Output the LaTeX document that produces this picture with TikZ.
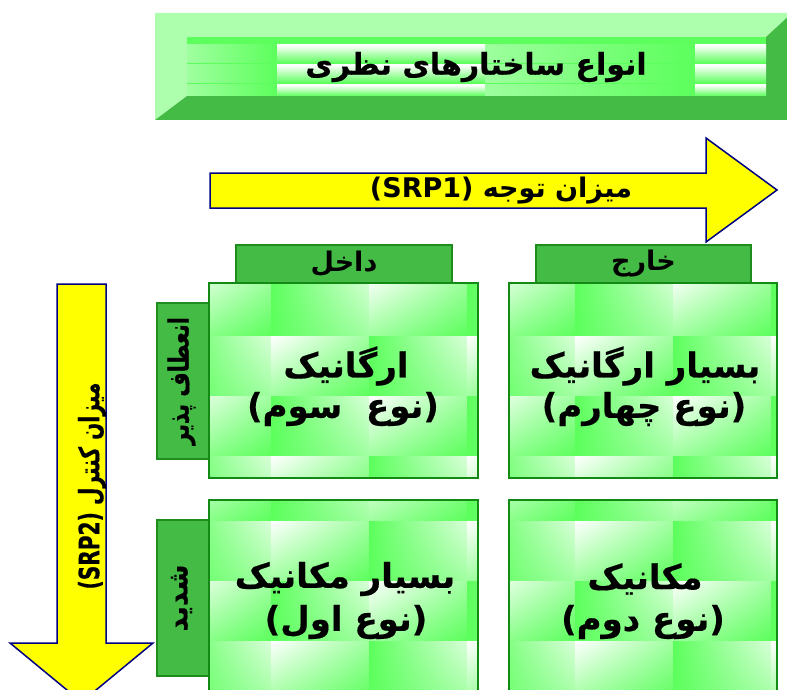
\documentclass[tikz,border=0pt]{standalone}
\usepackage{fontspec}
\usepackage{graphicx}
\usetikzlibrary{shadings}
\TeXXeTstate=1
\newfontfamily\ar[Script=Arabic]{DejaVu Sans}
\newfontfamily\arh[Script=Arabic, BoldFeatures={FakeBold=0.5}]{DejaVu Sans}
\definecolor{tg}{HTML}{5CFF5C}
\definecolor{tl}{HTML}{A0FFA0}
\definecolor{bevL}{HTML}{ADFFAD}
\definecolor{bevD}{HTML}{44BB44}
\definecolor{hdrfill}{HTML}{44BB44}
\definecolor{hdrline}{HTML}{1E8C1E}
\definecolor{cellline}{HTML}{138A13}
\definecolor{arrfill}{HTML}{FFFF00}
\definecolor{arrline}{HTML}{000080}
\newcommand\tiletex[6]{%
\begin{scope}
\clip (#1,-#2) rectangle (#3,-#4);
\foreach \i in {0,...,4}{
 \foreach \j in {0,...,4}{
  \pgfmathsetmacro\xa{#5+98*\i}
  \pgfmathsetmacro\ya{#6+60*\j}
  \pgfmathtruncatemacro\pp{mod(\i+\j,2)}
  \ifnum\pp=0
   \shade[upper left=white, upper right=tl, lower left=tl, lower right=tg] (\xa,-\ya) rectangle ++(98,-60);
  \else
   \shade[upper left=tg, upper right=white!60!tl, lower left=tg, lower right=tl] (\xa,-\ya) rectangle ++(98,-60);
  \fi
 }}
\end{scope}}
\tikzset{
 arrowshape/.style={fill=arrfill, draw=arrline, line width=1.5pt, line join=miter},
 hdrbox/.style={fill=hdrfill, draw=hdrline, line width=1.2pt, inner sep=0pt},
 cellbox/.style={draw=cellline, line width=2pt, inner sep=0pt},
 sidelbl/.style={font=\arh\bfseries\fontsize{28}{30}\selectfont, inner sep=0pt},
 hdrlbl/.style={font=\ar\bfseries\fontsize{27}{30}\selectfont, inner sep=0pt},
 celltxt/.style={font=\arh\bfseries\fontsize{34}{38}\selectfont, inner sep=0pt},
}
\begin{document}
\begin{tikzpicture}[x=1pt,y=1pt]
\useasboundingbox (0,0) rectangle (787,-690);
\clip (0,0) rectangle (787,-690);
% banner bevel
\fill[bevL] (155,-13) -- (792,-13) -- (766,-37) -- (187,-37) -- (187,-96) -- (155,-120) -- cycle;
\fill[bevD] (155,-120) -- (187,-96) -- (766,-96) -- (766,-37) -- (792,-13) -- (792,-120) -- cycle;
% banner face
\fill[tg] (187,-37) rectangle (766,-96);
\foreach \ya/\yb in {45/63, 65/83, 85/96}{
 \shade[left color=tl, right color=tg] (187,-\ya) rectangle (277,-\yb);
 \shade[top color=white, bottom color=tg] (277,-\ya) rectangle (485,-\yb);
 \shade[left color=tg!60!white, right color=tg] (485,-\ya) rectangle (695,-\yb);
 \shade[top color=white, bottom color=tg] (695,-\ya) rectangle (766,-\yb);
}
\node[font=\arh\bfseries\fontsize{30}{34}\selectfont, inner sep=0pt] (title) at (476,-67) {\beginR انواع ساختارهای نظری\endR};
% horizontal arrow
\draw[arrowshape] (210,-173) -- (706,-173) -- (706,-138) -- (777,-190) -- (706,-242) -- (706,-208) -- (210,-208) -- cycle;
\node[hdrlbl] (srp1) at (501,-191) {\beginR میزان توجه (\beginL SRP1\endL)\endR};
% vertical arrow
\draw[arrowshape] (57,-284) -- (106,-284) -- (106,-643) -- (153,-643) -- (81.5,-702) -- (10,-643) -- (57,-643) -- cycle;
\node[sidelbl, rotate=90] (srp2) at (92,-486) {\scalebox{0.72}[1]{\beginR میزان کنترل (\beginL SRP2\endL)\endR}};
% headers
\node[hdrbox, minimum width=216pt, minimum height=38pt] (inner) at (344,-264) {};
\node[hdrlbl] at (inner) {\beginR داخل\endR};
\node[hdrbox, minimum width=215pt, minimum height=38pt] (outer) at (643.5,-264) {};
\node[hdrlbl] at (outer) {\beginR خارج\endR};
% side labels
\node[hdrbox, rotate=90, minimum width=156pt, minimum height=53pt] (flex) at (183.5,-381) {};
\node[sidelbl, rotate=90] at ([xshift=-2pt]flex.center) {\scalebox{0.75}[1]{\beginR انعطاف پذیر\endR}};
\node[hdrbox, rotate=90, minimum width=156pt, minimum height=53pt] (strict) at (183.5,-598) {};
\node[sidelbl, rotate=90] at ([xshift=-2pt]strict.center) {\scalebox{0.95}[1]{\beginR شدید\endR}};
% cells textures
\tiletex{209}{283}{478}{478}{173}{276}
\tiletex{509}{283}{777}{478}{477}{276}
\tiletex{209}{500}{478}{700}{173}{461}
\tiletex{509}{500}{777}{700}{477}{461}
% cell borders
\node[cellbox, minimum width=269pt, minimum height=195pt] (c3) at (343.5,-380.5) {};
\node[cellbox, minimum width=268pt, minimum height=195pt] (c4) at (643,-380.5) {};
\node[cellbox, minimum width=269pt, minimum height=200pt] (c1) at (343.5,-600) {};
\node[cellbox, minimum width=268pt, minimum height=200pt] (c2) at (643,-600) {};
% cell texts
\node[celltxt] (t3a) at (346,-366) {\beginR ارگانیک\endR};
\node[celltxt] (t3b) at (343,-409) {\beginR(نوع\hspace{0.7em}سوم)\endR};
\node[celltxt] (t4a) at (645,-366) {\beginR بسیار ارگانیک\endR};
\node[celltxt] (t4b) at (644,-409) {\beginR(نوع چهارم)\endR};
\node[celltxt] (t1a) at (345,-579) {\beginR بسیار مکانیک\endR};
\node[celltxt] (t1b) at (346,-622) {\beginR(نوع اول)\endR};
\node[celltxt] (t2a) at (645,-579) {\beginR مکانیک\endR};
\node[celltxt] (t2b) at (643,-622) {\beginR(نوع دوم)\endR};
\end{tikzpicture}
\end{document}
